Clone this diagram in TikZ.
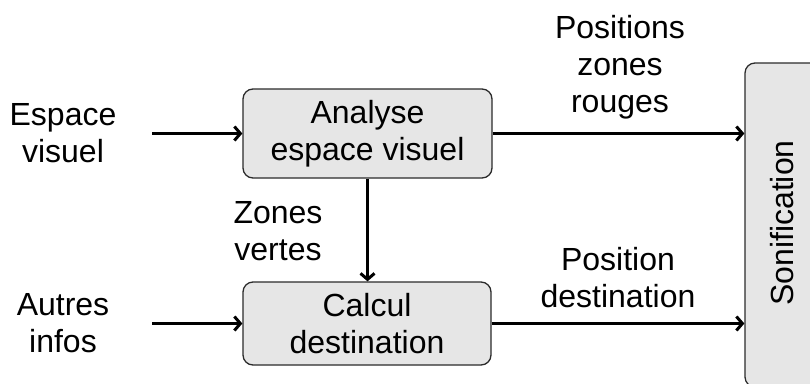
\documentclass[tikz,border=0pt]{standalone}
\usepackage{fontspec}
\setmainfont{Liberation Sans}
\usetikzlibrary{arrows.meta}
\definecolor{boxfill}{HTML}{E6E6E6}
\definecolor{boxline}{HTML}{2B2B2B}
\tikzset{
  blk/.style={draw=boxline, line width=1.3pt, fill=boxfill, rounded corners=10pt, align=center, inner sep=0pt},
  lbl/.style={align=center, inner sep=0pt},
  arr/.style={line width=3pt, -{Straight Barb[length=6pt,width=14pt,line width=3pt]}},
}
\begin{document}
\begin{tikzpicture}[x=1pt,y=-1pt, font=\fontsize{32}{37}\selectfont]
\useasboundingbox (0,0) rectangle (810,383);
\clip (0,0) rectangle (810,383);
\node[blk, minimum width=249pt, minimum height=89pt] (ana) at (367.5,133.5) {Analyse\\espace visuel};
\node[blk, minimum width=248pt, minimum height=83pt] (cal) at (367,323.5) {Calcul\\destination};
\node[blk, minimum width=78pt, minimum height=324pt] (son) at (784,225) {};
\node[lbl, rotate=90] (sontxt) at (782,223) {Sonification};
\node[lbl] (esp) at (63,133.5) {Espace\\visuel};
\node[lbl] (aut) at (63,323) {Autres\\infos};
\node[lbl] (zv) at (278,231.5) {Zones\\vertes};
\node[lbl, anchor=south] (pzr) at (620,119.5) {Positions\\zones\\rouges};
\node[lbl, anchor=south] (pd) at (618,308) {Position\\destination};
\coordinate (in1) at (152,133.5);
\coordinate (in2) at (152,323.5);
\draw[arr] (in1) -- (ana.west);
\draw[arr] (in2) -- (cal.west);
\draw[arr] (ana.east) -- (ana.east -| son.west);
\draw[arr] (cal.east) -- (cal.east -| son.west);
\draw[arr] (ana.south) -- (ana.south |- cal.north);
\end{tikzpicture}
\end{document}
